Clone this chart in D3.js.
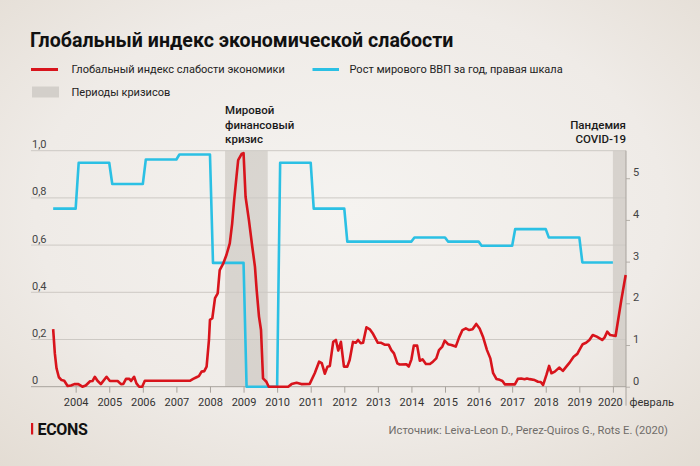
<!DOCTYPE html>
<html><head><meta charset="utf-8">
<script src="https://cdn.jsdelivr.net/npm/d3@7"></script>
<style>
html,body{margin:0;padding:0;background:#eee9e3;}
svg{display:block;font-family:Roboto,"Noto Sans",sans-serif;}
</style></head>
<body>
<svg id="chart" width="700" height="466"></svg>
<script>
// ---------- DATA ----------
const titleText = "Глобальный индекс экономической слабости";
const legendLabels = ["Глобальный индекс слабости экономики", "Рост мирового ВВП за год, правая шкала", "Периоды кризисов"];
const sourceText = "Источник: Leiva-Leon D., Perez-Quiros G., Rots E. (2020)";
const brandText = "ECONS";

// weakness index (decimal year, value)
const redDates = [2003.33,2003.38,2003.43,2003.50,2003.58,2003.66,2003.76,2003.86,2003.96,2004.08,2004.20,2004.30,2004.43,2004.50,2004.57,2004.65,2004.75,2004.92,2005.02,2005.25,2005.35,2005.42,2005.50,2005.60,2005.65,2005.74,2005.81,2005.89,2005.98,2006.06,2007.40,2007.50,2007.60,2007.67,2007.75,2007.83,2007.90,2007.97,2008.00,2008.07,2008.15,2008.23,2008.29,2008.39,2008.49,2008.59,2008.66,2008.72,2008.79,2008.84,2008.94,2009.00,2009.06,2009.16,2009.26,2009.34,2009.39,2009.46,2009.52,2009.58,2009.68,2009.75,2010.33,2010.43,2010.58,2010.72,2010.97,2011.12,2011.25,2011.33,2011.42,2011.50,2011.57,2011.67,2011.75,2011.82,2011.90,2011.99,2012.09,2012.16,2012.26,2012.34,2012.41,2012.49,2012.56,2012.66,2012.76,2012.86,2013.00,2013.10,2013.20,2013.32,2013.40,2013.48,2013.58,2013.65,2013.85,2013.92,2014.00,2014.07,2014.17,2014.25,2014.33,2014.43,2014.55,2014.64,2014.74,2014.82,2014.92,2014.99,2015.09,2015.19,2015.32,2015.42,2015.52,2015.62,2015.72,2015.82,2015.93,2016.03,2016.13,2016.25,2016.35,2016.43,2016.53,2016.63,2016.71,2016.78,2017.08,2017.17,2017.27,2017.37,2017.44,2017.52,2017.67,2017.77,2017.85,2017.92,2018.02,2018.10,2018.17,2018.27,2018.40,2018.51,2018.63,2018.71,2018.83,2018.94,2019.00,2019.10,2019.20,2019.30,2019.40,2019.52,2019.68,2019.75,2019.83,2019.92,2020.08,2020.25,2020.38];
const redValues = [0.244,0.141,0.078,0.040,0.028,0.025,0.003,0.005,0.011,0.011,0.000,0.005,0.023,0.024,0.042,0.025,0.011,0.042,0.024,0.024,0.011,0.012,0.033,0.033,0.024,0.042,0.014,0.000,0.000,0.025,0.025,0.033,0.040,0.045,0.064,0.066,0.085,0.198,0.283,0.290,0.375,0.395,0.494,0.520,0.558,0.607,0.690,0.790,0.890,0.960,0.986,0.990,0.805,0.706,0.593,0.508,0.410,0.297,0.240,0.035,0.021,0.000,0.000,0.011,0.017,0.011,0.012,0.057,0.106,0.100,0.055,0.085,0.088,0.190,0.198,0.153,0.190,0.085,0.085,0.113,0.190,0.186,0.198,0.184,0.186,0.252,0.243,0.223,0.186,0.186,0.178,0.178,0.155,0.141,0.099,0.094,0.095,0.085,0.116,0.174,0.174,0.110,0.116,0.096,0.096,0.106,0.120,0.155,0.170,0.195,0.180,0.177,0.170,0.209,0.240,0.247,0.240,0.243,0.266,0.247,0.212,0.155,0.120,0.059,0.033,0.029,0.024,0.010,0.010,0.033,0.035,0.032,0.035,0.032,0.028,0.021,0.020,0.007,0.050,0.088,0.057,0.064,0.081,0.067,0.088,0.102,0.127,0.139,0.155,0.180,0.186,0.198,0.219,0.212,0.198,0.208,0.233,0.219,0.215,0.367,0.473];

// world GDP growth by year, % (right axis)
const gdpYears  = [2003,2004,2005,2006,2007,2008,2009,2010,2011,2012,2013,2014,2015,2016,2017,2018,2019];
const gdpValues = [4.27,5.37,4.86,5.45,5.57,2.97,0,5.37,4.27,3.48,3.48,3.58,3.48,3.38,3.78,3.58,2.98];
const gdpStart = 2003.33, gdpEnd = 2020.0;

// crisis periods
const crisisStart = [2008.45, 2020.0];
const crisisEnd   = [2009.72, 2020.39];
const crisisNotes = [["Мировой","финансовый","кризис"], ["Пандемия","COVID-19"]];

const xTickYears = [2004,2005,2006,2007,2008,2009,2010,2011,2012,2013,2014,2015,2016,2017,2018,2019,2020];
const leftTicks = [0,0.2,0.4,0.6,0.8,1.0];
const rightTicks = [0,1,2,3,4,5];
const endLabel = "февраль";

// ---------- LAYOUT ----------
const svg = d3.select("#chart");
const W = 700, H = 466;
const plotL = 31, plotR = 626, plotTop = 150.7, plotBot = 386.7;
const RED = "#d8141c", BLUE = "#2bc0e4";

const defs = svg.append("defs");
const rg = defs.append("radialGradient").attr("id","bg").attr("cx","50%").attr("cy","45%").attr("r","75%");
rg.append("stop").attr("offset","0%").attr("stop-color","#f5f3f0");
rg.append("stop").attr("offset","60%").attr("stop-color","#efebe7");
rg.append("stop").attr("offset","100%").attr("stop-color","#e3dcd3");
svg.append("rect").attr("width",W).attr("height",H).attr("fill","url(#bg)");

const x = d3.scaleLinear().domain([2002.67, 2020.39]).range([plotL, plotR]);
const yL = d3.scaleLinear().domain([0,1]).range([plotBot, plotTop]);
const yR = d3.scaleLinear().domain([0,5.66]).range([plotBot, plotTop]);

// title
svg.append("text").attr("x",30).attr("y",47).attr("font-size",19.6).attr("font-weight",700)
  .attr("fill","#111").text(titleText);

// legend
const lg = svg.append("g").attr("font-size",11).attr("fill","#222");
lg.append("line").attr("x1",31).attr("x2",58).attr("y1",69.5).attr("y2",69.5).attr("stroke",RED).attr("stroke-width",3);
lg.append("text").attr("x",71.5).attr("y",73.3).text(legendLabels[0]);
lg.append("line").attr("x1",312.5).attr("x2",339).attr("y1",69.5).attr("y2",69.5).attr("stroke",BLUE).attr("stroke-width",3);
lg.append("text").attr("x",349.5).attr("y",73.3).text(legendLabels[1]);
lg.append("rect").attr("x",32).attr("y",86.5).attr("width",27).attr("height",11).attr("fill","#d3cfca");
lg.append("text").attr("x",71.5).attr("y",96).text(legendLabels[2]);

// crisis bands
svg.append("g").selectAll("rect").data(crisisStart).join("rect")
  .attr("x", d => x(d)).attr("width", (d,i) => x(crisisEnd[i]) - x(d))
  .attr("y", plotTop).attr("height", plotBot - plotTop)
  .attr("fill", "#a9a39c").attr("fill-opacity", 0.35);

// gridlines
svg.append("g").selectAll("line").data(leftTicks.filter(d => d > 0)).join("line")
  .attr("x1", plotL).attr("x2", plotR).attr("y1", d => yL(d)).attr("y2", d => yL(d))
  .attr("stroke", "#cdc9c4").attr("stroke-width", 1);

// left tick labels
const fmtL = d => d === 0 ? "0" : d3.format(".1f")(d).replace(".", ",");
svg.append("g").attr("font-size",11).attr("fill","#444").selectAll("text").data(leftTicks).join("text")
  .attr("x", 32).attr("y", d => yL(d) - 2.5).text(fmtL);

// right axis
const rAxis = svg.append("g").attr("transform",`translate(${plotR},0)`)
  .call(d3.axisRight(yR).tickValues(rightTicks).tickSize(4).tickPadding(3).tickFormat(d3.format("d")));
rAxis.select(".domain").remove();
rAxis.selectAll("line").attr("stroke","#b5b0aa");
rAxis.selectAll("text").attr("font-family","Roboto, sans-serif").attr("font-size",11).attr("fill","#444").attr("dy","-2.5");

// x axis
const xAxis = svg.append("g").attr("transform",`translate(0,${plotBot})`)
  .call(d3.axisBottom(x).tickValues(xTickYears).tickSize(6).tickPadding(6).tickFormat(d3.format("d")));
xAxis.select(".domain").attr("stroke","#a8a39d").attr("d", `M${plotL},0H${plotR}`);
xAxis.selectAll(".tick line").attr("stroke","#a8a39d");
xAxis.selectAll(".tick text").attr("font-family","Roboto, sans-serif").attr("font-size",11).attr("fill","#333");
xAxis.selectAll(".tick text").filter(d => d === 2020).attr("dx", -3);
// end separator + label
xAxis.append("line").attr("x1",plotR).attr("x2",plotR).attr("y1",-plotBot+plotTop).attr("y2",19).attr("stroke","#a8a39d");
xAxis.append("text").attr("x",plotR+3.5).attr("y",19).attr("font-size",11).attr("fill","#333")
  .attr("text-anchor","start").attr("font-family","Roboto, sans-serif").text(endLabel);

// GDP step line
const gdpPts = [];
gdpYears.forEach((yr, i) => {
  const s = i === 0 ? gdpStart : yr + 0.09;
  const e = i === gdpYears.length - 1 ? gdpEnd : yr + 1;
  gdpPts.push([s, gdpValues[i]], [e, gdpValues[i]]);
});
svg.append("path").datum(gdpPts)
  .attr("d", d3.line().x(d => x(d[0])).y(d => yR(d[1])))
  .attr("fill","none").attr("stroke",BLUE).attr("stroke-width",2.6).attr("stroke-linejoin","round");

// weakness index line
const redPts = redDates.map((d,i) => [d, redValues[i]]);
svg.append("path").datum(redPts)
  .attr("d", d3.line().x(d => x(d[0])).y(d => yL(d[1])))
  .attr("fill","none").attr("stroke",RED).attr("stroke-width",2.6).attr("stroke-linejoin","round");

// annotations
const ann = svg.append("g").attr("font-size",11.5).attr("font-weight",500).attr("fill","#1a1a1a");
const a1 = ann.append("text").attr("x", x(crisisStart[0])).attr("y", 114);
crisisNotes[0].forEach((t,i) => a1.append("tspan").attr("x", x(crisisStart[0])).attr("y", 114 + i*14.5).text(t));
const a2 = ann.append("text").attr("text-anchor","end");
crisisNotes[1].forEach((t,i) => a2.append("tspan").attr("x", x(crisisEnd[1])).attr("y", 128.5 + i*14.5).text(t));

// footer
svg.append("rect").attr("x",31).attr("y",423).attr("width",2.2).attr("height",11.5).attr("fill",RED);
svg.append("text").attr("x",37.5).attr("y",434.5).attr("font-size",16).attr("font-weight",700)
  .attr("fill","#111").attr("letter-spacing",-0.3).text(brandText);
svg.append("text").attr("x",668).attr("y",434).attr("text-anchor","end").attr("font-size",11.2)
  .attr("fill","#6f6c69").text(sourceText);
</script>
</body></html>
